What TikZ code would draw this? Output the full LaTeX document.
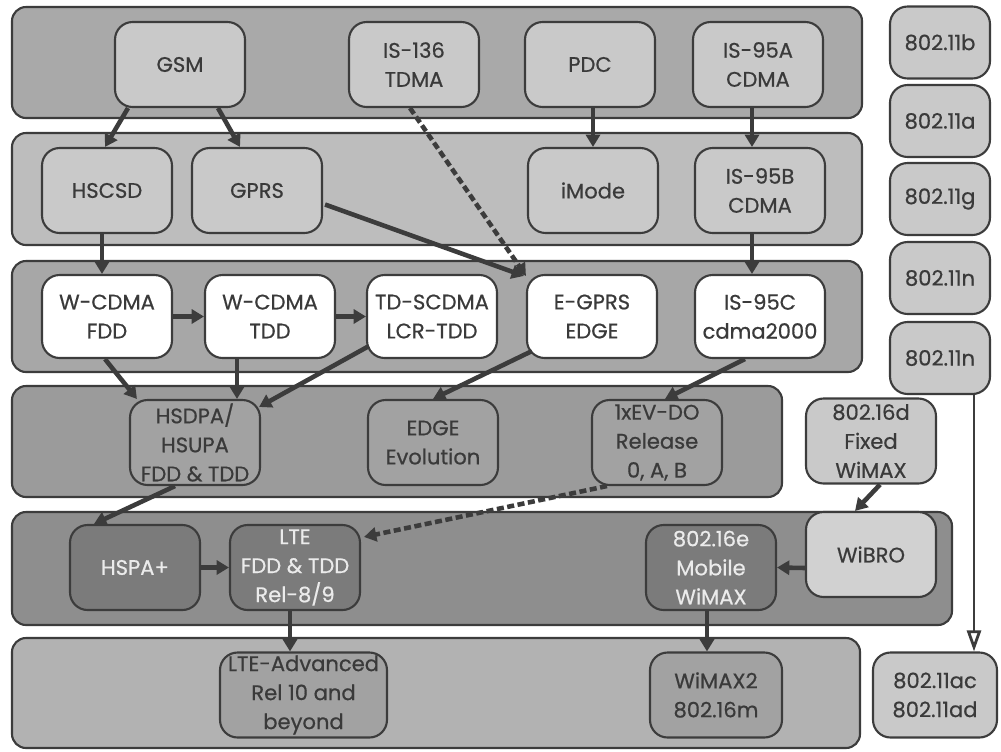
\documentclass[tikz,border=0pt]{standalone}
\usepackage{fontspec}
\setmainfont{Poppins}[BoldFont=Poppins, BoldFeatures={FakeBold=0.6}]
\usetikzlibrary{arrows.meta,calc}
\definecolor{edge}{HTML}{3C3C3C}
\definecolor{txt}{HTML}{3A3A3A}
\definecolor{bandA}{HTML}{A9A9A9}
\definecolor{bandB}{HTML}{BDBDBD}
\definecolor{bandC}{HTML}{A7A7A7}
\definecolor{bandD}{HTML}{9B9B9B}
\definecolor{bandE}{HTML}{8E8E8E}
\definecolor{bandF}{HTML}{B2B2B2}
\definecolor{lightn}{HTML}{C9C9C9}
\definecolor{midn}{HTML}{A2A2A2}
\definecolor{darkn}{HTML}{7B7B7B}
\tikzset{
  band/.style={draw=edge, line width=1.2pt, rounded corners=8pt},
  box/.style={draw=edge, line width=1.2pt, rounded corners=10pt, align=center,
     font=\fontsize{12}{16.5}\selectfont\bfseries, text=txt, inner sep=1pt,
     minimum width=2.6cm, minimum height=1.7cm},
  lbox/.style={box, fill=lightn},
  wbox/.style={box, fill=white, minimum height=1.66cm},
  mbox/.style={box, fill=midn},
  dbox/.style={box, fill=darkn, text=white!92!black},
  rbox/.style={box, fill=lightn, minimum width=2.0cm, minimum height=1.44cm},
  arr/.style={draw=edge, line width=2.6pt, -{Triangle[length=7pt,width=8pt]}},
  darr/.style={arr, dash pattern=on 4pt off 2pt},
  oarr/.style={draw=edge, line width=1.6pt, -{Triangle[open,length=12pt,width=8pt,fill=white]}}
}
\begin{document}
\begin{tikzpicture}[x=0.02cm,y=-0.02cm]
\useasboundingbox (0,0) rectangle (1001,751);
\fill[white] (0,0) rectangle (1001,751);
% bands
\path[band, fill=bandA] (12,7) rectangle (862,118);
\path[band, fill=bandB] (12,133) rectangle (862,245);
\path[band, fill=bandC] (12,261) rectangle (862,372);
\path[band, fill=bandD] (12,386) rectangle (782,497);
\path[band, fill=bandE] (12,512) rectangle (952,625);
\path[band, fill=bandF] (12,638) rectangle (860,748);
% row 1
\node[lbox] (gsm) at (180,64.5) {GSM};
\node[lbox] (is136) at (414,64.5) {IS-136\\TDMA};
\node[lbox] (pdc) at (590,64.5) {PDC};
\node[lbox] (is95a) at (758,64.5) {IS-95A\\CDMA};
% right column
\node[rbox] (b) at (940,42.5) {802.11b};
\node[rbox] (a) at (940,121) {802.11a};
\node[rbox] (g) at (940,199) {802.11g};
\node[rbox] (n1) at (940,278) {802.11n};
\node[rbox] (n2) at (940,358) {802.11n};
% row 2
\node[lbox] (hscsd) at (107,190.5) {HSCSD};
\node[lbox] (gprs) at (257,190.5) {GPRS};
\node[lbox] (imode) at (593,190.5) {iMode};
\node[lbox] (is95b) at (760,190.5) {IS-95B\\CDMA};
% row 3
\node[wbox] (wfdd) at (107,316.5) {W-CDMA\\FDD};
\node[wbox] (wtdd) at (270,316.5) {W-CDMA\\TDD};
\node[wbox] (tds) at (432,316.5) {TD-SCDMA\\LCR-TDD};
\node[wbox] (egprs) at (592,316.5) {E-GPRS\\EDGE};
\node[wbox] (is95c) at (760,316.5) {IS-95C\\cdma2000};
% row 4
\node[mbox] (hsdpa) at (195,442.5) {HSDPA/\\HSUPA\\FDD \& TDD};
\node[mbox] (edgeev) at (433,442.5) {EDGE\\Evolution};
\node[mbox] (evdo) at (657,442.5) {1xEV-DO\\Release\\0, A, B};
\node[lbox] (fixed) at (871,441) {802.16d\\Fixed\\WiMAX};
% row 5
\node[dbox] (hspap) at (135,567.5) {HSPA+};
\node[dbox] (lte) at (295,567.5) {LTE\\FDD \& TDD\\Rel-8/9};
\node[dbox] (mobile) at (711,567.5) {802.16e\\Mobile\\WiMAX};
\node[lbox, fill=white!82!black] (wibro) at (871,554.5) {WiBRO};
% row 6
\node[mbox, minimum width=3.34cm] (ltea) at (303.5,695) {LTE-Advanced\\Rel 10 and\\beyond};
\node[mbox, minimum width=2.64cm] (wimax2) at (716,695) {WiMAX2\\802.16m};
\node[lbox, minimum width=2.48cm] (ac) at (935,695) {802.11ac\\802.11ad};
% connectors
\draw[arr] ($(gsm.south)+(-52,0)$) -- ($(hscsd.north)+(-2,0)$);
\draw[arr] ($(gsm.south)+(38,0)$) -- ($(gprs.north)+(-17,0)$);
\draw[darr] ($(is136.south)+(-4,0)$) -- ($(egprs.north west)+(0,2)$);
\draw[arr] (pdc.south -| imode.north) -- (imode.north);
\draw[arr] ($(is95a.south)+(-6,0)$) -- ($(is95b.north)+(-8,0)$);
\draw[arr] ($(gprs.east)+(2,14)$) -- ($(egprs.north west)+(-2,2)$);
\draw[arr] ($(hscsd.south)+(-5,0)$) -- ($(wfdd.north)+(-5,0)$);
\draw[arr] ($(is95b.south)+(-8,0)$) -- ($(is95c.north)+(-8,0)$);
\draw[arr] (wfdd.east) -- (wtdd.west);
\draw[arr] (wtdd.east) -- (tds.west);
\draw[arr] ($(wfdd.south)+(-2,0)$) -- ($(hsdpa.north west)+(8,0)$);
\draw[arr] ($(wtdd.south)+(-33,0)$) -- ($(hsdpa.north)+(42,0)$);
\draw[arr] ($(tds.south west)+(3,-13)$) -- ($(hsdpa.north east)+(-2,8)$);
\draw[arr] ($(egprs.south west)+(6,-8)$) -- ($(edgeev.north)+(0,0)$);
\draw[arr] ($(is95c.south)+(-15,0)$) -- ($(evdo.north)+(8,0)$);
\draw[arr] ($(hsdpa.south)+(-20,0)$) -- ($(hspap.north west)+(25,0)$);
\draw[darr] ($(evdo.south west)+(16,0)$) -- ($(lte.north east)+(3,13)$);
\draw[arr] (hspap.east) -- (lte.west);
\draw[arr] ($(fixed.south)+(9,0)$) -- ($(wibro.north)+(-16,0)$);
\draw[arr] ($(wibro.west)+(0,13.5)$) -- (mobile.east);
\draw[arr] ($(lte.south)+(-5,0)$) -- ($(ltea.north)+(-13.5,0)$);
\draw[arr] ($(mobile.south)+(-4,0)$) -- ($(wimax2.north)+(-9,0)$);
\draw[oarr] ($(n2.south)+(34,0)$) -- ($(ac.north)+(39,0)$);
\end{tikzpicture}
\end{document}
